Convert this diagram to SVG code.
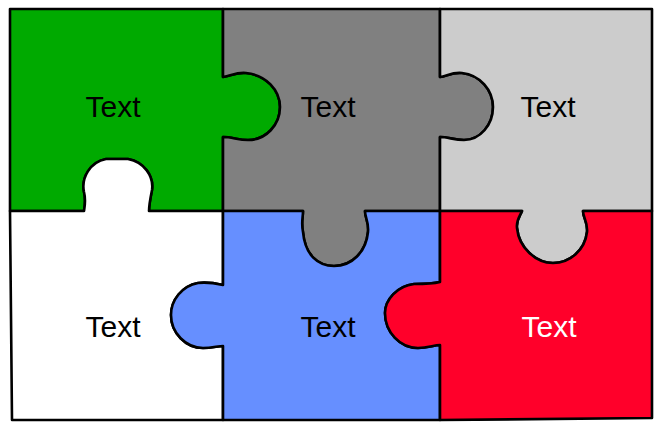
<svg xmlns="http://www.w3.org/2000/svg" width="654" height="426" viewBox="0 0 654 426">
<style>
.p{stroke:#000;stroke-width:2.6;stroke-linejoin:round}
.t{font-family:"Liberation Sans",Arial,sans-serif;font-size:30px;text-anchor:middle;fill:#000}
</style>
<rect width="654" height="426" fill="#fff"/>
<g id="green">
<path class="p" fill="#00AA00" d="M10,9 L223,9 L223,77 C231,76 236,72 246,73 C266,75 280,90 280,107 C280,125 266,140 248,140 C238,140 232,137 223,137 L223,211 L149,211 C149,205 150,200 152,190 C154,176 144,162 128,159 L106,159 C90,162 81,178 84,192 C86,200 85,205 84,211 L10,211 Z"/>
<text class="t" x="113" y="117">Text</text>
</g>
<g id="gray">
<path class="p" fill="#808080" d="M223,9 L440,9 L440,77 C447,76 452,72 462,73 C480,75 493,90 493,107 C493,125 480,140 464,140 C454,140 448,137 440,137 L440,211 L365,211 C365,218 369,222 368,232 C366,252 352,266 334,266 C318,266 305,255 303,232 C301,222 303,218 303,211 L223,211 L223,137 C232,137 238,140 248,140 C266,140 280,125 280,107 C280,90 266,75 246,73 C236,72 231,76 223,77 Z"/>
<text class="t" x="328" y="117">Text</text>
</g>
<g id="lightgray">
<path class="p" fill="#CCCCCC" d="M440,9 L652,9 L652,211 L583,211 C583,218 588,222 587,232 C585,250 570,263 553,263 C536,263 519,248 517,228 C516,220 520,216 522,211 L440,211 L440,137 C448,137 454,140 464,140 C480,140 493,125 493,107 C493,90 480,75 462,73 C452,72 447,76 440,77 Z"/>
<text class="t" x="548" y="117">Text</text>
</g>
<g id="white">
<path class="p" fill="#FFFFFF" d="M10,211 L84,211 C85,205 86,200 84,192 C81,178 90,162 106,159 L128,159 C144,162 154,176 152,190 C150,200 149,205 149,211 L223,211 L223,285 C214,283 206,282 198,283 C182,286 171,300 171,315 C171,333 186,348 203,348 C212,348 218,346 223,346 L223,420 L12,420 Z"/>
<text class="t" x="113" y="337">Text</text>
</g>
<g id="blue">
<path class="p" fill="#668FFF" d="M223,211 L303,211 C303,218 301,222 303,232 C305,255 318,266 334,266 C352,266 366,252 368,232 C369,222 365,218 365,211 L440,211 L440,282 C432,284 424,284 414,284 C397,286 385,300 385,313 C385,332 400,348 418,348 C428,348 434,345 440,345 L440,420 L223,420 L223,346 C218,346 212,348 203,348 C186,348 171,333 171,315 C171,300 182,286 198,283 C206,282 214,283 223,285 Z"/>
<text class="t" x="328" y="337">Text</text>
</g>
<g id="red">
<path class="p" fill="#FF002A" d="M440,211 L522,211 C520,216 516,220 517,228 C519,248 536,263 553,263 C570,263 585,250 587,232 C588,222 583,218 583,211 L652,211 L652,418 L440,420 L440,345 C434,345 428,348 418,348 C400,348 385,332 385,313 C385,300 397,286 414,284 C424,284 432,284 440,282 Z"/>
<text class="t" x="549" y="337" style="fill:#fff">Text</text>
</g>
<g id="connectors"></g>
</svg>
